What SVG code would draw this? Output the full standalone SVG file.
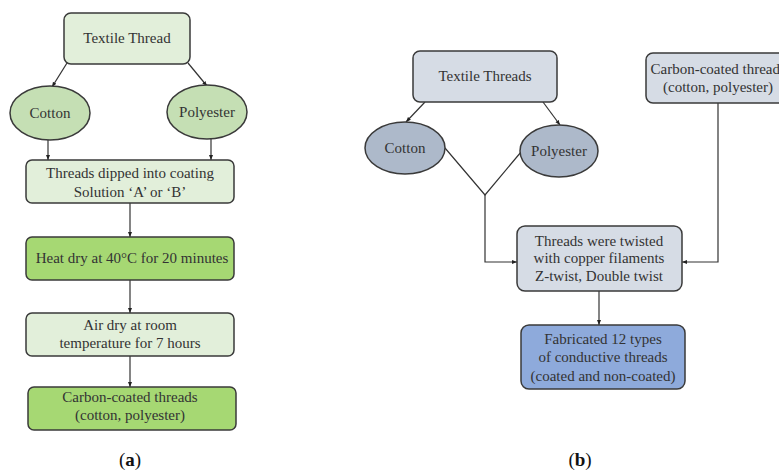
<svg xmlns="http://www.w3.org/2000/svg" width="779" height="472" viewBox="0 0 779 472">
<style>
.box{stroke:#3a3a3a;stroke-width:1.5}
.ga{fill:#e2efda}.gb{fill:#a6d873}.ge{fill:#c5dfb4}
.ba{fill:#d6dce5}.be{fill:#adb9ca}.bd{fill:#8eaadb}
text{font-family:"Liberation Serif","Times New Roman",serif;font-size:15px;fill:#333;text-anchor:middle}
.lbl{font-size:19px;fill:#111}
.c{fill:none;stroke:#333;stroke-width:1.2}
</style>
<defs>
<marker id="ah" viewBox="0 0 10 10" refX="10" refY="5" markerWidth="5" markerHeight="5" orient="auto" markerUnits="userSpaceOnUse">
<path d="M0,1 L10,5 L0,9 Z" fill="#222"/>
</marker>
</defs>
<rect width="779" height="472" fill="#fff"/>

<g id="connectors">
<line class="c" x1="67" y1="63" x2="52" y2="87" marker-end="url(#ah)"/>
<line class="c" x1="188" y1="63" x2="207" y2="86" marker-end="url(#ah)"/>
<line class="c" x1="48" y1="140" x2="48" y2="160" marker-end="url(#ah)"/>
<line class="c" x1="211" y1="139" x2="211" y2="160" marker-end="url(#ah)"/>
<line class="c" x1="130" y1="203" x2="130" y2="237" marker-end="url(#ah)"/>
<line class="c" x1="130" y1="280" x2="130" y2="313" marker-end="url(#ah)"/>
<line class="c" x1="130" y1="356" x2="130" y2="387" marker-end="url(#ah)"/>

<line class="c" x1="425" y1="102" x2="406" y2="122" marker-end="url(#ah)"/>
<line class="c" x1="543" y1="102" x2="560" y2="125" marker-end="url(#ah)"/>
<polyline class="c" points="445,148 485,195 521,152"/>
<polyline class="c" points="485,195 485,262 517,262" marker-end="url(#ah)"/>
<polyline class="c" points="718,103 718,262 682,262" marker-end="url(#ah)"/>
<line class="c" x1="599" y1="291" x2="599" y2="325" marker-end="url(#ah)"/>
</g>

<g id="a-textile">
<rect class="box ga" x="64" y="13" width="126" height="51" rx="7"/>
<text x="127" y="43">Textile Thread</text>
</g>
<g id="a-cotton">
<ellipse class="box ge" cx="50" cy="113" rx="40" ry="27"/>
<text x="50" y="118">Cotton</text>
</g>
<g id="a-polyester">
<ellipse class="box ge" cx="207" cy="112" rx="40" ry="27"/>
<text x="207" y="117">Polyester</text>
</g>
<g id="a-dipped">
<rect class="box ga" x="26" y="160" width="208" height="43" rx="6"/>
<text x="130" y="178">Threads dipped into coating</text>
<text x="130" y="197">Solution ‘A’ or ‘B’</text>
</g>
<g id="a-heat">
<rect class="box gb" x="26" y="237" width="208" height="43" rx="6"/>
<text x="132" y="263">Heat dry at 40°C for 20 minutes</text>
</g>
<g id="a-air">
<rect class="box ga" x="26" y="313" width="208" height="43" rx="6"/>
<text x="130" y="330">Air dry at room</text>
<text x="130" y="348">temperature for 7 hours</text>
</g>
<g id="a-carbon">
<rect class="box gb" x="28" y="387" width="208" height="43" rx="6"/>
<text x="130" y="402">Carbon-coated threads</text>
<text x="130" y="420">(cotton, polyester)</text>
</g>
<text class="lbl" x="130" y="466">(<tspan font-weight="bold">a</tspan>)</text>

<g id="b-textile">
<rect class="box ba" x="413" y="51" width="144" height="51" rx="7"/>
<text x="485" y="81">Textile Threads</text>
</g>
<g id="b-carbon">
<rect class="box ba" x="646" y="53" width="150" height="50" rx="7"/>
<text x="650.5" y="74" style="text-anchor:start">Carbon-coated thread</text>
<text x="718" y="92">(cotton, polyester)</text>
</g>
<g id="b-cotton">
<ellipse class="box be" cx="405" cy="148" rx="40" ry="26"/>
<text x="405" y="153">Cotton</text>
</g>
<g id="b-polyester">
<ellipse class="box be" cx="559" cy="151" rx="39" ry="26"/>
<text x="559" y="156">Polyester</text>
</g>
<g id="b-twisted">
<rect class="box ba" x="517" y="226" width="165" height="65" rx="8"/>
<text x="599" y="246">Threads were twisted</text>
<text x="599" y="263">with copper filaments</text>
<text x="599" y="281">Z-twist, Double twist</text>
</g>
<g id="b-fabricated">
<rect class="box bd" x="521" y="325" width="164" height="64" rx="8"/>
<text x="603" y="344">Fabricated 12 types</text>
<text x="603" y="362">of conductive threads</text>
<text x="603" y="381">(coated and non-coated)</text>
</g>
<text class="lbl" x="580" y="466">(<tspan font-weight="bold">b</tspan>)</text>
</svg>
